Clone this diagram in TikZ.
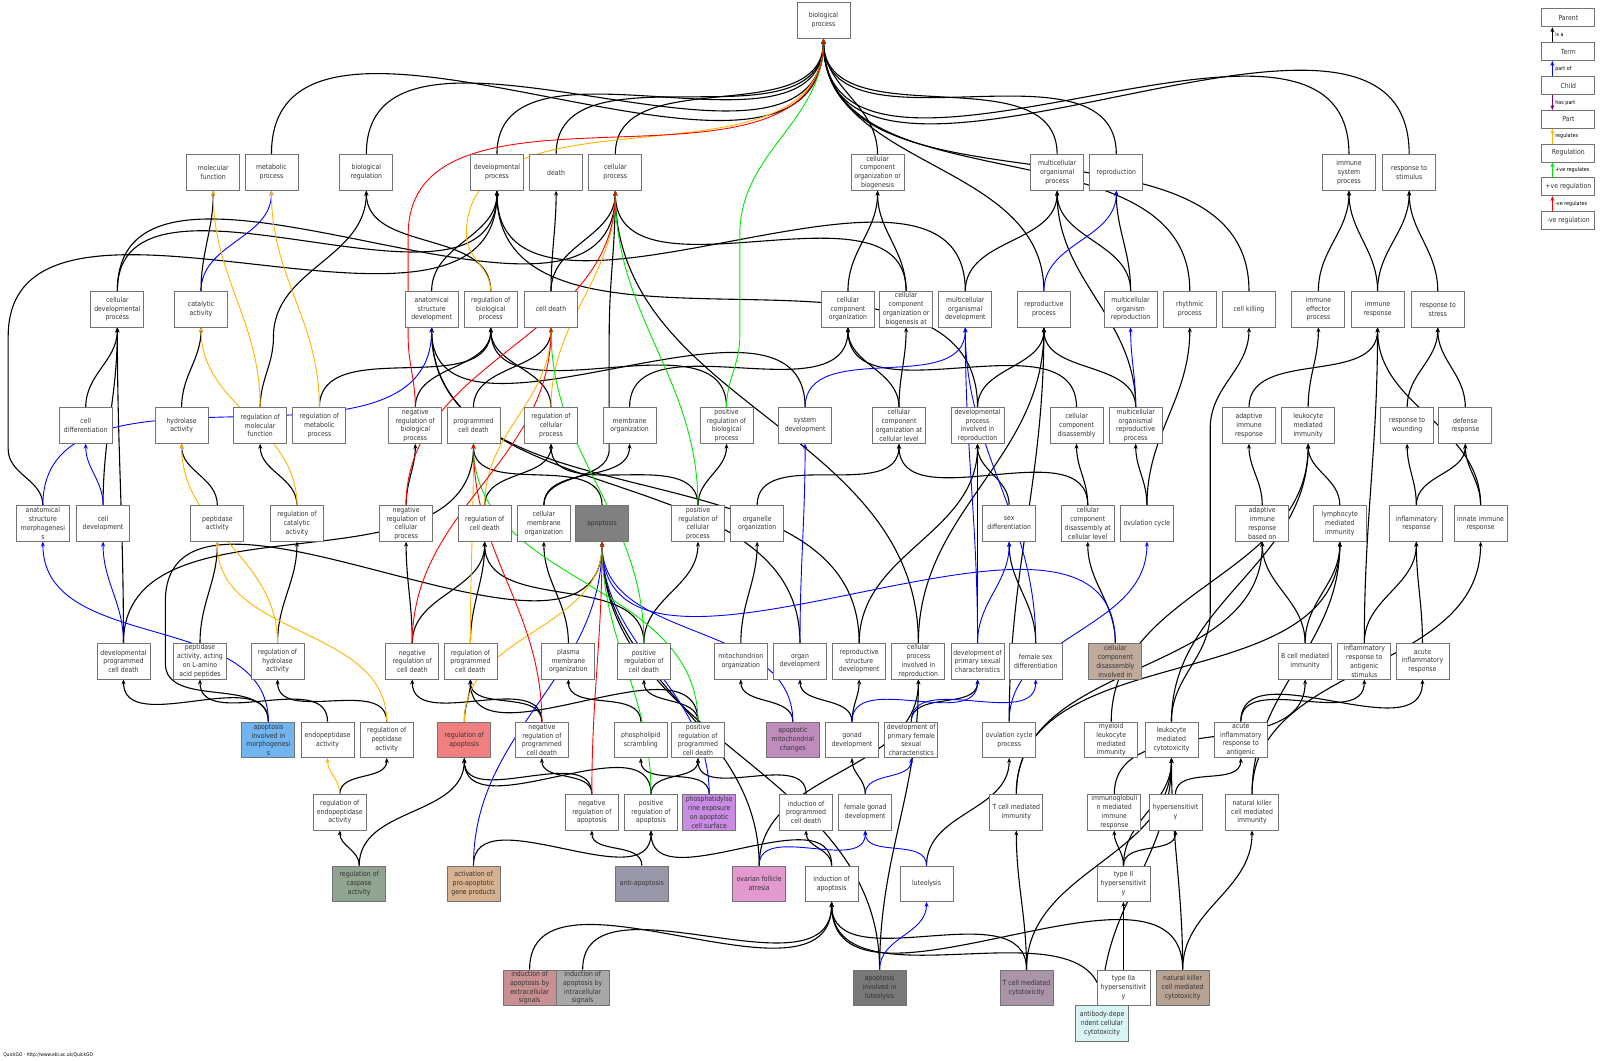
\documentclass[tikz,border=0pt]{standalone}
\usepackage{fontspec}
\setmainfont{DejaVu Sans}[FakeStretch=0.88]
\usetikzlibrary{arrows.meta,positioning}
\definecolor{apopgray}{RGB}{128,128,128}
\definecolor{ccdtan}{RGB}{192,170,156}
\definecolor{morphblue}{RGB}{112,180,240}
\definecolor{regapop}{RGB}{240,128,128}
\definecolor{mitomauve}{RGB}{192,140,190}
\definecolor{pselilac}{RGB}{200,140,228}
\definecolor{caspgreen}{RGB}{144,164,144}
\definecolor{proapop}{RGB}{216,178,144}
\definecolor{antigray}{RGB}{152,152,170}
\definecolor{ofapink}{RGB}{228,152,208}
\definecolor{extrose}{RGB}{200,144,144}
\definecolor{intgray}{RGB}{168,168,168}
\definecolor{lutgray}{RGB}{120,120,120}
\definecolor{tcellmauve}{RGB}{170,148,170}
\definecolor{nkbrown}{RGB}{184,162,146}
\definecolor{adccyan}{RGB}{216,244,244}
\definecolor{regorange}{RGB}{255,180,0}
\definecolor{posgreen}{RGB}{0,230,0}
\definecolor{negred}{RGB}{255,0,0}
\definecolor{haspurple}{RGB}{128,0,128}
\pgfdeclarelayer{edges}
\pgfsetlayers{edges,main}
\tikzset{
    term/.style={draw=black!55,fill=white,line width=0.8pt,minimum width=53pt,minimum height=35.5pt,
        inner sep=0pt,align=center,text=black!80,font=\fontsize{7}{8.8}\selectfont},
    legbox/.style={term,minimum height=18pt},
    tip/.style={-{Stealth[length=5pt,width=4pt]}},
    isa/.style={tip,draw=black,line width=1.1pt},
    partof/.style={tip,draw=blue,line width=0.9pt},
    regul/.style={tip,draw=regorange,line width=0.9pt},
    posreg/.style={tip,draw=posgreen,line width=0.9pt},
    negreg/.style={tip,draw=negred,line width=0.9pt},
    haspart/.style={tip,draw=haspurple,line width=0.9pt},
    leglabel/.style={anchor=west,inner sep=0pt,font=\fontsize{5.5}{6.5}\selectfont},
    vv/.style={out=90,in=-90},
}
\begin{document}
\begin{tikzpicture}[x=1.0204pt,y=-1.0204pt]
    \useasboundingbox (0,0) rectangle (1568,1039);
    % row 0 and 1
    \node[term] (bp) at (807,20) {biological\\process};
    \node[term] (mf) at (209,169) {molecular\\function};
    \node[term] (metab) at (266,169) {metabolic\\process};
    \node[term] (bioreg) at (359,169) {biological\\regulation};
    \node[term] (devproc) at (487,169) {developmental\\process};
    \node[term] (death) at (545,169) {death};
    \node[term] (cellproc) at (603,169) {cellular\\process};
    \node[term] (ccob) at (860,169) {cellular\\component\\organization or\\biogenesis};
    \node[term] (mop) at (1036,169) {multicellular\\organismal\\process};
    \node[term] (repro) at (1094,169) {reproduction};
    \node[term] (isp) at (1322,169) {immune\\system\\process};
    \node[term] (rts) at (1381,169) {response to\\stimulus};
    % row 2
    \node[term] (cdp) at (115,303) {cellular\\developmental\\process};
    \node[term] (cat) at (197,303) {catalytic\\activity};
    \node[term] (asd) at (423,303) {anatomical\\structure\\development};
    \node[term] (rbp) at (481,303) {regulation of\\biological\\process};
    \node[term] (celldeath) at (540,303) {cell death};
    \node[term] (cco) at (831,303) {cellular\\component\\organization};
    \node[term] (ccobat) at (888,303) {cellular\\component\\organization or\\biogenesis at};
    \node[term] (mod) at (946,303) {multicellular\\organismal\\development};
    \node[term] (rp) at (1023,303) {reproductive\\process};
    \node[term] (mor) at (1108,303) {multicellular\\organism\\reproduction};
    \node[term] (rhythm) at (1166,303) {rhythmic\\process};
    \node[term] (killing) at (1224,303) {cell killing};
    \node[term] (iep) at (1292,303) {immune\\effector\\process};
    \node[term] (ir) at (1350,303) {immune\\response};
    \node[term] (rstress) at (1409,303) {response to\\stress};
    % row 3
    \node[term] (cdiff) at (84,417) {cell\\differentiation};
    \node[term] (hydro) at (178,417) {hydrolase\\activity};
    \node[term] (rmf) at (255,417) {regulation of\\molecular\\function};
    \node[term] (rmp) at (313,417) {regulation of\\metabolic\\process};
    \node[term] (nrbp) at (407,417) {negative\\regulation of\\biological\\process};
    \node[term] (pcd) at (464,417) {programmed\\cell death};
    \node[term] (rcp) at (540,417) {regulation of\\cellular\\process};
    \node[term] (memorg) at (617,417) {membrane\\organization};
    \node[term] (prbp) at (712,417) {positive\\regulation of\\biological\\process};
    \node[term] (sysdev) at (789,417) {system\\development};
    \node[term] (ccocl) at (881,417) {cellular\\component\\organization at\\cellular level};
    \node[term] (dpir) at (958,417) {developmental\\process\\involved in\\reproduction};
    \node[term] (ccd) at (1055,417) {cellular\\component\\disassembly};
    \node[term] (morp) at (1113,417) {multicellular\\organismal\\reproductive\\process};
    \node[term] (air) at (1224,417) {adaptive\\immune\\response};
    \node[term] (lmi) at (1282,417) {leukocyte\\mediated\\immunity};
    \node[term] (rwound) at (1379,417) {response to\\wounding};
    \node[term] (defresp) at (1436,417) {defense\\response};
    % row 4
    \node[term] (asm) at (42,513) {anatomical\\structure\\morphogenesi\\s};
    \node[term] (celldev) at (101,513) {cell\\development};
    \node[term] (pept) at (213,513) {peptidase\\activity};
    \node[term] (rcat) at (291,513) {regulation of\\catalytic\\activity};
    \node[term] (nrcp) at (398,513) {negative\\regulation of\\cellular\\process};
    \node[term] (rcd) at (475,513) {regulation of\\cell death};
    \node[term] (cmo) at (533,513) {cellular\\membrane\\organization};
    \node[term,fill=apopgray] (apop) at (590,513) {apoptosis};
    \node[term] (prcp) at (684,513) {positive\\regulation of\\cellular\\process};
    \node[term] (orgorg) at (742,513) {organelle\\organization};
    \node[term] (sexdiff) at (989,513) {sex\\differentiation};
    \node[term] (ccdcl) at (1066,513) {cellular\\component\\disassembly at\\cellular level};
    \node[term] (ovcyc) at (1124,513) {ovulation cycle};
    \node[term] (airbo) at (1237,513) {adaptive\\immune\\response\\based on};
    \node[term] (lymph) at (1313,513) {lymphocyte\\mediated\\immunity};
    \node[term] (inflam) at (1388,513) {inflammatory\\response};
    \node[term] (innate) at (1451,513) {innate immune\\response};
    % row 5
    \node[term] (dpcd) at (121,648) {developmental\\programmed\\cell death};
    \node[term] (peptL) at (196,648) {peptidase\\activity, acting\\on L-amino\\acid peptides};
    \node[term] (rhydro) at (272,648) {regulation of\\hydrolase\\activity};
    \node[term] (nrcd) at (404,648) {negative\\regulation of\\cell death};
    \node[term] (rpcd) at (461,648) {regulation of\\programmed\\cell death};
    \node[term] (pmo) at (557,648) {plasma\\membrane\\organization};
    \node[term] (prcd) at (631,648) {positive\\regulation of\\cell death};
    \node[term] (mito) at (726,648) {mitochondrion\\organization};
    \node[term] (organdev) at (784,648) {organ\\development};
    \node[term] (rsd) at (842,648) {reproductive\\structure\\development};
    \node[term] (cpir) at (900,648) {cellular\\process\\involved in\\reproduction};
    \node[term] (dpsc) at (958,648) {development of\\primary sexual\\characteristics};
    \node[term] (fsd) at (1015,648) {female sex\\differentiation};
    \node[term,fill=ccdtan] (ccdi) at (1093,648) {cellular\\component\\disassembly\\involved in};
    \node[term] (bcell) at (1279,648) {B cell mediated\\immunity};
    \node[term] (irags) at (1337,648) {inflammatory\\response to\\antigenic\\stimulus};
    \node[term] (acute) at (1394,648) {acute\\inflammatory\\response};
    % row 6
    \node[term,fill=morphblue] (aim) at (263,725) {apoptosis\\involved in\\morphogenesi\\s};
    \node[term] (endo) at (321,725) {endopeptidase\\activity};
    \node[term] (rpa) at (379,725) {regulation of\\peptidase\\activity};
    \node[term,fill=regapop] (rapop) at (455,725) {regulation of\\apoptosis};
    \node[term] (nrpcd) at (531,725) {negative\\regulation of\\programmed\\cell death};
    \node[term] (pls) at (628,725) {phospholipid\\scrambling};
    \node[term] (prpcd) at (684,725) {positive\\regulation of\\programmed\\cell death};
    \node[term,fill=mitomauve] (amc) at (777,725) {apoptotic\\mitochondrial\\changes};
    \node[term] (gonad) at (835,725) {gonad\\development};
    \node[term] (dpfsc) at (893,725) {development of\\primary female\\sexual\\characteristics};
    \node[term] (ovcp) at (989,725) {ovulation cycle\\process};
    \node[term] (myeloid) at (1089,725) {myeloid\\leukocyte\\mediated\\immunity};
    \node[term] (lmc) at (1148,725) {leukocyte\\mediated\\cytotoxicity};
    \node[term] (airta) at (1216,725) {acute\\inflammatory\\response to\\antigenic};
    % row 7
    \node[term] (rendo) at (333,796) {regulation of\\endopeptidase\\activity};
    \node[term] (nrapop) at (580,796) {negative\\regulation of\\apoptosis};
    \node[term] (prapop) at (638,796) {positive\\regulation of\\apoptosis};
    \node[term,fill=pselilac] (pse) at (695,796) {phosphatidylse\\rine exposure\\on apoptotic\\cell surface};
    \node[term] (ipcd) at (790,796) {induction of\\programmed\\cell death};
    \node[term] (fgd) at (848,796) {female gonad\\development};
    \node[term] (tcmi) at (996,796) {T cell mediated\\immunity};
    \node[term] (igmir) at (1092,796) {immunoglobuli\\n mediated\\immune\\response};
    \node[term] (hyper) at (1152,796) {hypersensitivit\\y};
    \node[term] (nkmi) at (1227,796) {natural killer\\cell mediated\\immunity};
    % row 8
    \node[term,fill=caspgreen] (rcasp) at (352,866) {regulation of\\caspase\\activity};
    \node[term,fill=proapop] (apag) at (464,866) {activation of\\pro-apoptotic\\gene products};
    \node[term,fill=antigray] (antiap) at (629,866) {anti-apoptosis};
    \node[term,fill=ofapink] (ofa) at (744,866) {ovarian follicle\\atresia};
    \node[term] (iapop) at (815,866) {induction of\\apoptosis};
    \node[term] (luteo) at (908,866) {luteolysis};
    \node[term] (ttwoh) at (1101,866) {type II\\hypersensitivit\\y};
    % row 9 and 10
    \node[term,fill=extrose] (iaext) at (519,968) {induction of\\apoptosis by\\extracellular\\signals};
    \node[term,fill=intgray] (iaint) at (571,968) {induction of\\apoptosis by\\intracellular\\signals};
    \node[term,fill=lutgray] (ail) at (862,968) {apoptosis\\involved in\\luteolysis};
    \node[term,fill=tcellmauve] (tcmc) at (1006,968) {T cell mediated\\cytotoxicity};
    \node[term] (ttwoah) at (1101,968) {type IIa\\hypersensitivit\\y};
    \node[term,fill=nkbrown] (nkmc) at (1159,968) {natural killer\\cell mediated\\cytotoxicity};
    \node[term,fill=adccyan] (adcc) at (1080,1003) {antibody-depe\\ndent cellular\\cytotoxicity};

    \begin{pgfonlayer}{edges}
    % is a
    \foreach \c/\p in {metab/bp,bioreg/bp,devproc/bp,death/bp,cellproc/bp,ccob/bp,mop/bp,repro/bp,
        rhythm/bp,killing/bp,isp/bp,rts/bp,rp/bp,
        cdp/devproc,cdp/cellproc,cat/mf,asd/devproc,rbp/bioreg,celldeath/death,celldeath/cellproc,
        cco/ccob,ccobat/ccob,ccobat/cellproc,mod/devproc,mod/mop,mor/mop,mor/repro,iep/isp,ir/isp,
        ir/rts,rstress/rts,
        cdiff/cdp,hydro/cat,rmp/rbp,nrbp/rbp,pcd/celldeath,rcp/rbp,memorg/cco,prbp/rbp,
        sysdev/asd,ccocl/cco,ccocl/ccobat,dpir/devproc,dpir/rp,ccd/cco,morp/mop,morp/rp,air/ir,
        lmi/iep,rwound/rstress,defresp/rstress,
        celldev/cdp,pept/hydro,rcat/rmf,nrcp/nrbp,rcd/rcp,cmo/memorg,
        apop/pcd,prcp/prbp,prcp/rcp,orgorg/ccocl,sexdiff/dpir,ccdcl/ccd,ccdcl/ccocl,ovcyc/morp,
        ovcyc/rhythm,airbo/air,lymph/lmi,inflam/rwound,inflam/defresp,innate/defresp,innate/ir,
        dpcd/cdp,dpcd/pcd,peptL/pept,rhydro/rcat,nrcd/nrcp,nrcd/rcd,rpcd/rcd,pmo/cmo,prcd/prcp,
        prcd/rcd,mito/orgorg,organdev/asd,rsd/asd,rsd/dpir,cpir/cellproc,cpir/rp,dpsc/dpir,
        fsd/sexdiff,ccdi/ccdcl,bcell/lymph,bcell/airbo,irags/inflam,irags/ir,acute/inflam,
        aim/dpcd,endo/peptL,rpa/rhydro,rapop/rpcd,nrpcd/nrcd,nrpcd/rpcd,pls/pmo,
        prpcd/prcd,prpcd/rpcd,amc/mito,gonad/organdev,gonad/rsd,dpfsc/dpsc,ovcp/rp,myeloid/lmi,
        lmc/lmi,airta/acute,airta/irags,
        rendo/rpa,nrapop/rapop,nrapop/nrpcd,prapop/rapop,prapop/prpcd,pse/pls,ipcd/prpcd,
        fgd/gonad,tcmi/lymph,tcmi/airbo,igmir/bcell,hyper/airta,nkmi/lymph,nkmi/innate,
        rcasp/rendo,rcasp/rapop,apag/prapop,antiap/nrapop,ofa/apop,ofa/cpir,iapop/prapop,
        iapop/ipcd,luteo/ovcp,ttwoh/igmir,ttwoh/hyper,ttwoh/lmc,
        iaext/iapop,iaint/iapop,ail/apop,ail/cpir,tcmc/tcmi,tcmc/lmc,tcmc/iapop,ttwoah/ttwoh,
        nkmc/nkmi,nkmc/lmc,nkmc/iapop,adcc/ttwoah,adcc/lmc,adcc/iapop}
        \draw[isa] (\c.north) to[vv] (\p.south);
    % long ones routed through the gaps
    \draw[isa] (asm.north) to[vv] (8,440) -- (8,330) to[vv] (devproc.south);
    \draw[isa] (rmf.north) to[vv] (268,330) to[vv] (bioreg.south);
    \draw[isa] (cmo.north) to[vv] (597,440) -- (597,330) to[vv] (cellproc.south);
    \draw[isa] (aim.north) to[vv] (162,650) -- (162,590) to[vv] (apop.south);
    \draw[isa] (lmc.north) to[vv] (1186,600) -- (1186,420) to[vv] (killing.south);
    % part of
    \foreach \c/\p in {cat/metab,rp/repro,sysdev/mod,morp/mor,asm/asd,celldev/cdiff,dpcd/celldev,
        organdev/sysdev,dpsc/sexdiff,dpsc/mod,fsd/mod,ccdi/apop,aim/asm,amc/apop,gonad/dpsc,
        dpfsc/fsd,ovcp/ovcyc,pse/apop,fgd/dpfsc,apag/apop,ofa/fgd,luteo/fgd,ail/luteo}
        \draw[partof] (\c.north) to[vv] (\p.south);
    % regulates
    \foreach \c/\p in {rmf/mf,rmp/metab,rcp/cellproc,rcat/cat,rcd/celldeath,rhydro/hydro,
        rpcd/pcd,rpa/pept,rapop/apop,rendo/endo}
        \draw[regul] (\c.north) to[vv] (\p.south);
    \draw[regul] (rbp.north) to[vv] (457,230) to[vv] (bp.south);
    % positively / negatively regulates
    \foreach \c/\p in {prcp/cellproc,prcd/celldeath,prpcd/pcd,prapop/apop}
        \draw[posreg] (\c.north) to[vv] (\p.south);
    \draw[posreg] (prbp.north) to[vv] (725,330) -- (725,230) to[vv] (bp.south);
    \foreach \c/\p in {nrcp/cellproc,nrcd/celldeath,nrpcd/pcd,nrapop/apop}
        \draw[negreg] (\c.north) to[vv] (\p.south);
    \draw[negreg] (nrbp.north) to[vv] (400,330) -- (400,230) to[vv] (bp.south);
    \end{pgfonlayer}

    % legend
    \node[legbox] (lparent) at (1537,17.5) {Parent};
    \node[legbox] (lterm) at (1537,50.5) {Term};
    \node[legbox] (lchild) at (1537,84) {Child};
    \node[legbox] (lpart) at (1537,117) {Part};
    \node[legbox] (lreg) at (1537,150) {Regulation};
    \node[legbox] (lpos) at (1537,183) {+ve regulation};
    \node[legbox] (lneg) at (1537,216) {-ve regulation};
    \draw[isa,line width=0.9pt] ([xshift=-16pt]lterm.north) -- ([xshift=-16pt]lparent.south)
        node[leglabel,midway,xshift=2.5pt] {is a};
    \draw[partof] ([xshift=-16pt]lchild.north) -- ([xshift=-16pt]lterm.south)
        node[leglabel,midway,xshift=2.5pt] {part of};
    \draw[haspart] ([xshift=-16pt]lchild.south) -- ([xshift=-16pt]lpart.north)
        node[leglabel,midway,xshift=2.5pt] {has part};
    \draw[regul] ([xshift=-16pt]lreg.north) -- ([xshift=-16pt]lpart.south)
        node[leglabel,midway,xshift=2.5pt] {regulates};
    \draw[posreg] ([xshift=-16pt]lpos.north) -- ([xshift=-16pt]lreg.south)
        node[leglabel,midway,xshift=2.5pt] {+ve regulates};
    \draw[negreg] ([xshift=-16pt]lneg.north) -- ([xshift=-16pt]lpos.south)
        node[leglabel,midway,xshift=2.5pt] {-ve regulates};

    \node[anchor=west,inner sep=0pt,font=\fontsize{5}{6}\selectfont] (credit) at (3,1034)
        {QuickGO - http://www.ebi.ac.uk/QuickGO};
\end{tikzpicture}
\end{document}
